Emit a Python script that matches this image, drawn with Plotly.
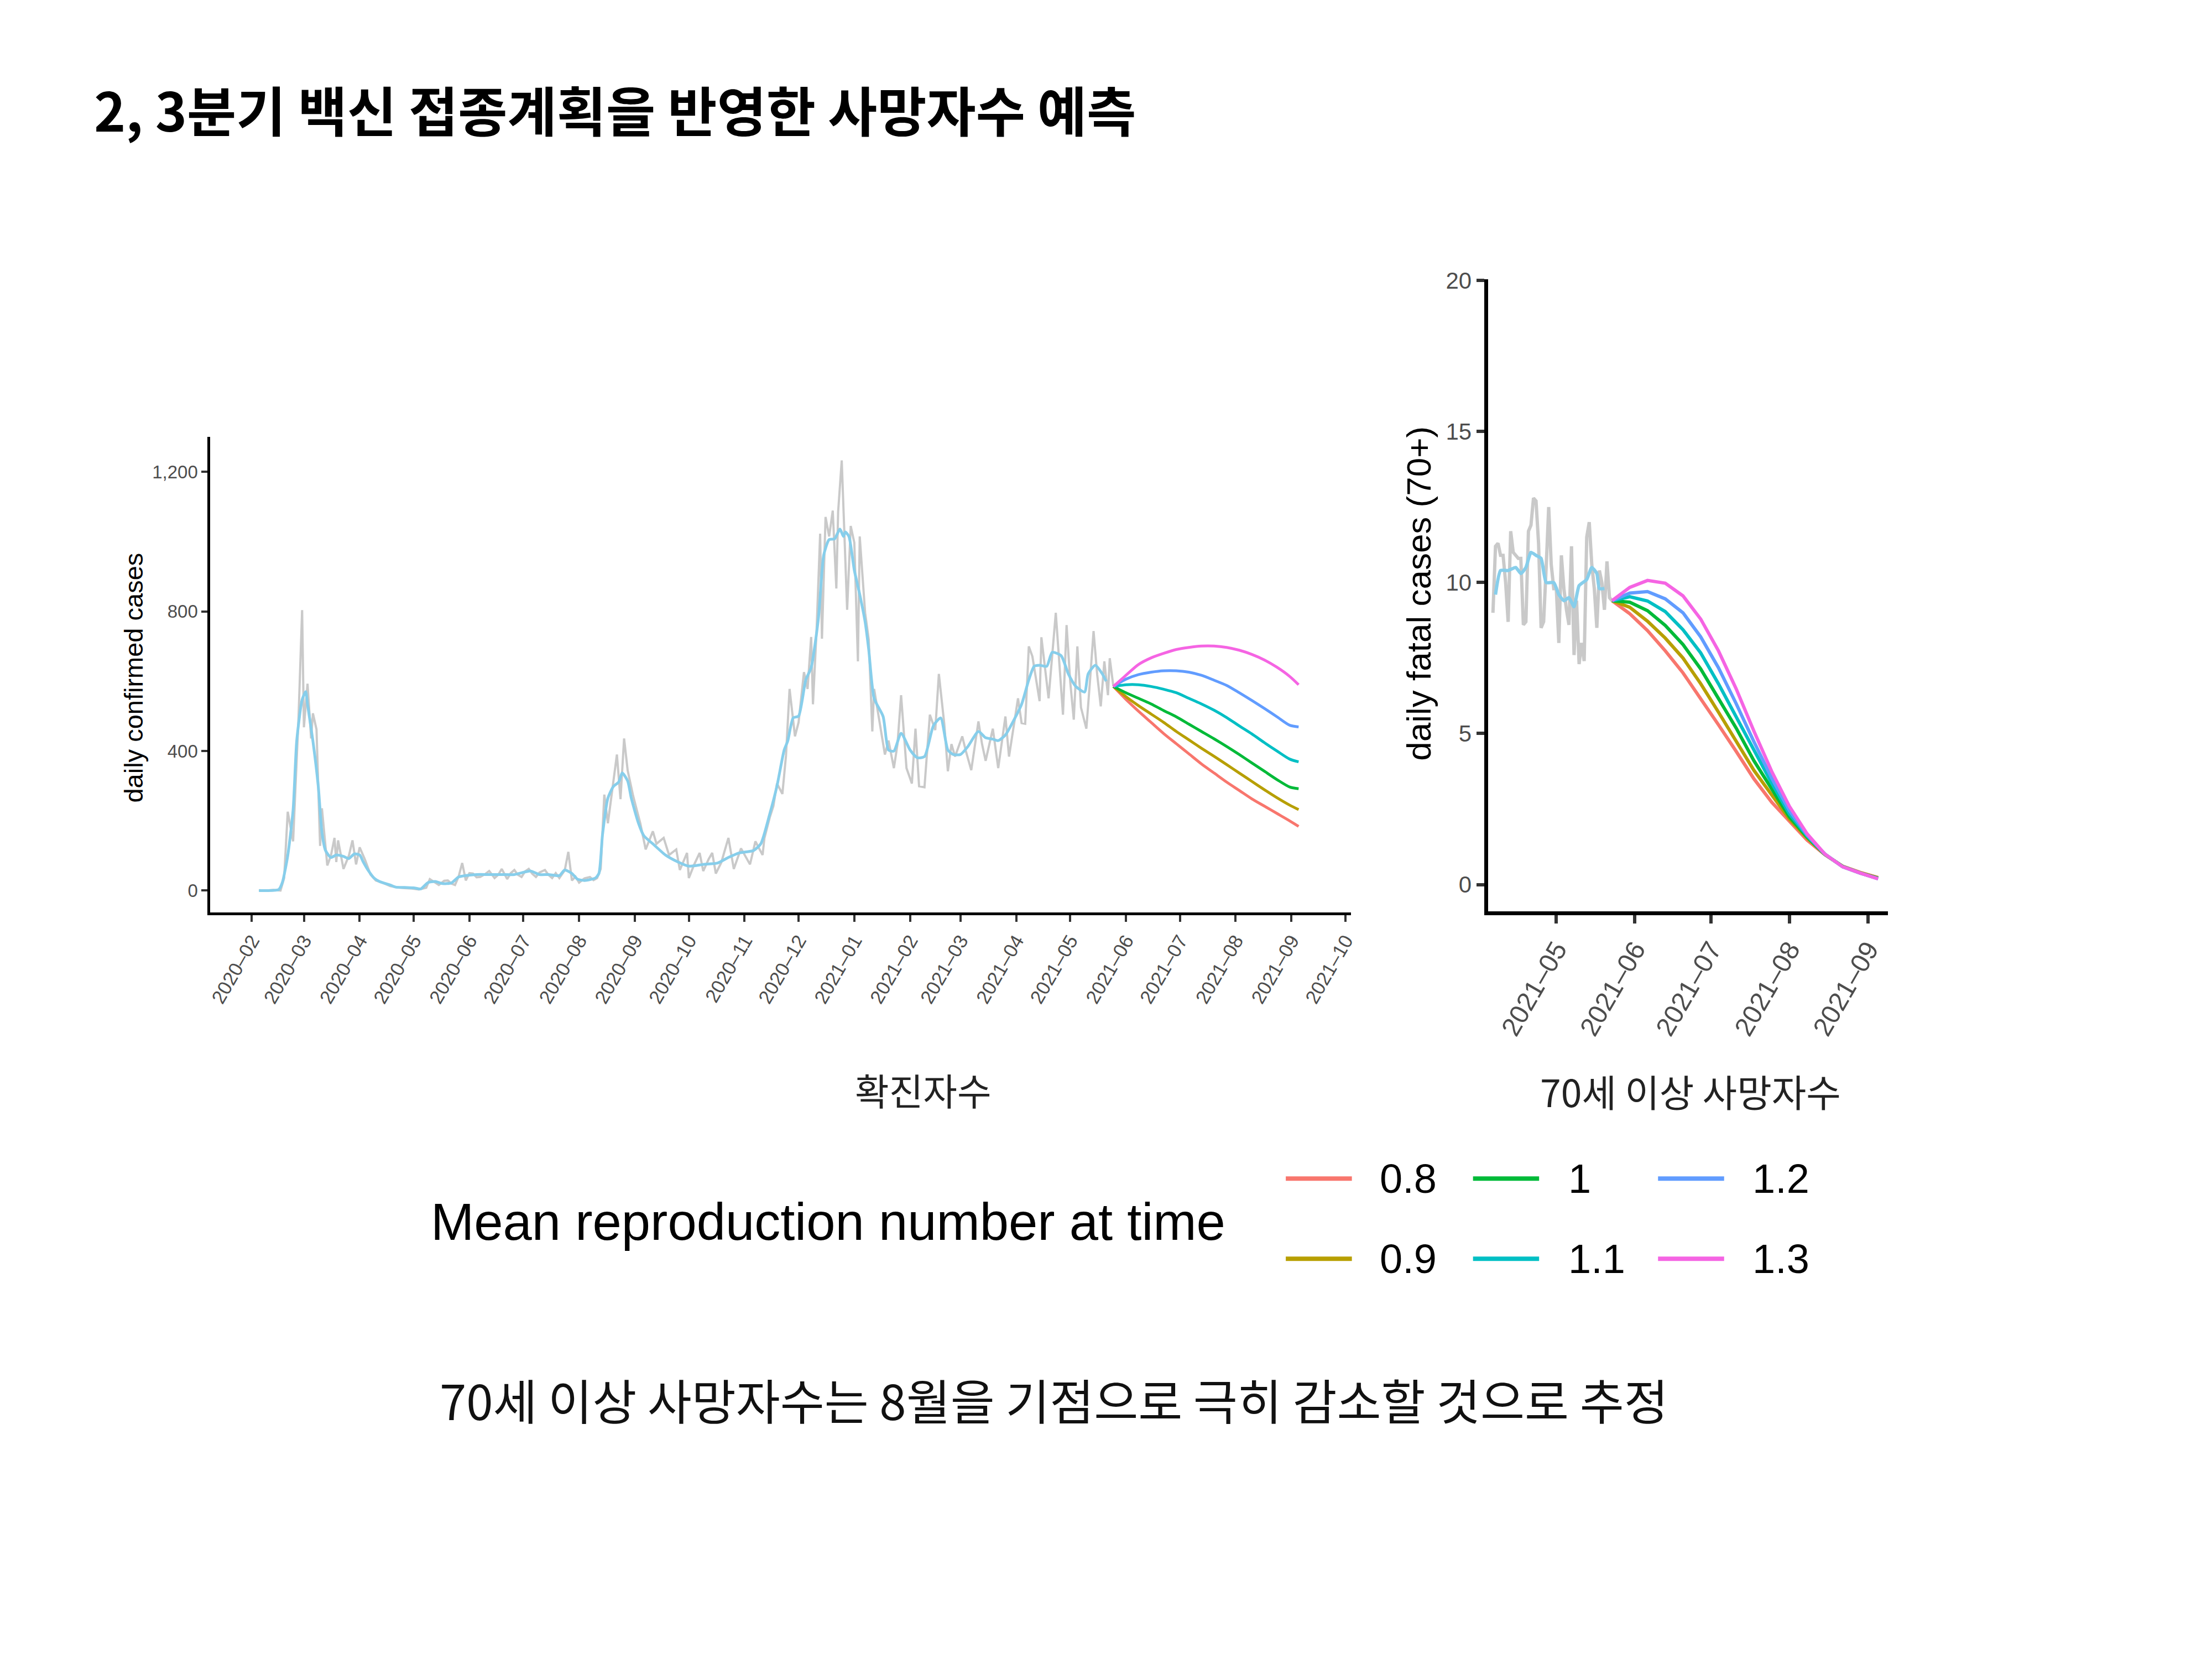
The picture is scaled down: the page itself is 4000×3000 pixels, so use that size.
import plotly.graph_objects as go

W, H = 4000, 3000


def px(x):
    return x / W


def py(y):
    return 1 - y / H


# ---------------- data: daily confirmed cases ----------------
conf_raw_dates = [
    "2020-02-05", "2020-02-09", "2020-02-13", "2020-02-17", "2020-02-19", "2020-02-21", "2020-02-24",
    "2020-02-27", "2020-02-29", "2020-03-01", "2020-03-03", "2020-03-05", "2020-03-06", "2020-03-08",
    "2020-03-10", "2020-03-11", "2020-03-14", "2020-03-16", "2020-03-18", "2020-03-19", "2020-03-20",
    "2020-03-23", "2020-03-26", "2020-03-28", "2020-03-30", "2020-04-01", "2020-04-04", "2020-04-07",
    "2020-04-10", "2020-04-14", "2020-04-18", "2020-04-22", "2020-04-26", "2020-04-30", "2020-05-04",
    "2020-05-08", "2020-05-10", "2020-05-13", "2020-05-15", "2020-05-18", "2020-05-20", "2020-05-22",
    "2020-05-24", "2020-05-26", "2020-05-28", "2020-05-30", "2020-06-01", "2020-06-03", "2020-06-05",
    "2020-06-07", "2020-06-10", "2020-06-12", "2020-06-15", "2020-06-17", "2020-06-19", "2020-06-22",
    "2020-06-24", "2020-06-26", "2020-06-28", "2020-06-30", "2020-07-02", "2020-07-04", "2020-07-06",
    "2020-07-08", "2020-07-10", "2020-07-13", "2020-07-15", "2020-07-17", "2020-07-19", "2020-07-21",
    "2020-07-24", "2020-07-26", "2020-07-28", "2020-07-30", "2020-08-01", "2020-08-04", "2020-08-07",
    "2020-08-09", "2020-08-11", "2020-08-13", "2020-08-15", "2020-08-17", "2020-08-22", "2020-08-24",
    "2020-08-26", "2020-08-28", "2020-08-31", "2020-09-02", "2020-09-04", "2020-09-07", "2020-09-11",
    "2020-09-13", "2020-09-17", "2020-09-20", "2020-09-24", "2020-09-26", "2020-09-30", "2020-10-01",
    "2020-10-04", "2020-10-07", "2020-10-09", "2020-10-12", "2020-10-14", "2020-10-16", "2020-10-19",
    "2020-10-23", "2020-10-26", "2020-10-30", "2020-11-04", "2020-11-07", "2020-11-11", "2020-11-12",
    "2020-11-15", "2020-11-17", "2020-11-19", "2020-11-22", "2020-11-24", "2020-11-26", "2020-11-29",
    "2020-12-01", "2020-12-04", "2020-12-06", "2020-12-08", "2020-12-09", "2020-12-11", "2020-12-13",
    "2020-12-14", "2020-12-16", "2020-12-18", "2020-12-20", "2020-12-22", "2020-12-23", "2020-12-25",
    "2020-12-28", "2020-12-30", "2021-01-01", "2021-01-03", "2021-01-04", "2021-01-06", "2021-01-07",
    "2021-01-09", "2021-01-11", "2021-01-12", "2021-01-15", "2021-01-18", "2021-01-20", "2021-01-23",
    "2021-01-25", "2021-01-27", "2021-01-30", "2021-02-02", "2021-02-04", "2021-02-06", "2021-02-09",
    "2021-02-12", "2021-02-15", "2021-02-17", "2021-02-20", "2021-02-22", "2021-02-24", "2021-02-26",
    "2021-03-02", "2021-03-04", "2021-03-07", "2021-03-11", "2021-03-13", "2021-03-15", "2021-03-19",
    "2021-03-22", "2021-03-26", "2021-03-28", "2021-04-02", "2021-04-04", "2021-04-06", "2021-04-08",
    "2021-04-10", "2021-04-14", "2021-04-15", "2021-04-17", "2021-04-19", "2021-04-23", "2021-04-25",
    "2021-04-27", "2021-04-29", "2021-05-01", "2021-05-03", "2021-05-05", "2021-05-07", "2021-05-10",
    "2021-05-12", "2021-05-14", "2021-05-16", "2021-05-18", "2021-05-20", "2021-05-22", "2021-05-23",
    "2021-05-25",
]
conf_raw = [
    1, 0, 2, 0, 36, 226, 141,
    495, 804, 468, 593, 436, 508, 462,
    128, 236, 72, 100, 151, 82, 144,
    62, 100, 144, 75, 124, 88, 46,
    29, 22, 13, 9, 7, 6, 3,
    8, 33, 22, 16, 28, 29, 20,
    16, 40, 79, 29, 50, 49, 38,
    39, 48, 56, 36, 45, 62, 33,
    50, 59, 45, 39, 55, 62, 48,
    39, 52, 59, 45, 36, 50, 36,
    58, 111, 29, 40, 23, 35, 39,
    30, 36, 62, 275, 193, 390, 262,
    436, 344, 272, 232, 193, 118, 170,
    134, 151, 102, 118, 59, 108, 36,
    75, 108, 56, 90, 108, 49, 80,
    151, 62, 121, 75, 141, 102, 150,
    210, 242, 307, 277, 386, 578, 442,
    482, 626, 578, 727, 534, 744, 1023,
    722, 1071, 1015, 1089, 866, 1086, 1233,
    805, 1045, 997, 657, 1015, 866, 796,
    720, 456, 578, 482, 390, 430, 351,
    420, 560, 351, 307, 464, 299, 296,
    504, 460, 621, 478, 342, 420, 384,
    442, 400, 345, 485, 420, 372, 464,
    351, 499, 384, 551, 480, 478, 700,
    671, 543, 726, 640, 551, 796, 650,
    504, 761, 600, 490, 700, 525, 464,
    600, 744, 620, 528, 657, 560, 666,
    586,
]

conf_smooth_dates = [
    "2020-02-05", "2020-02-09", "2020-02-16", "2020-02-18", "2020-02-21", "2020-02-24", "2020-02-26",
    "2020-02-29", "2020-03-02", "2020-03-03", "2020-03-06", "2020-03-09", "2020-03-11", "2020-03-13",
    "2020-03-16", "2020-03-19", "2020-03-23", "2020-03-26", "2020-03-29", "2020-04-01", "2020-04-03",
    "2020-04-06", "2020-04-09", "2020-04-12", "2020-04-18", "2020-04-21", "2020-04-26", "2020-05-01",
    "2020-05-05", "2020-05-09", "2020-05-13", "2020-05-17", "2020-05-22", "2020-05-26", "2020-05-30",
    "2020-06-05", "2020-06-12", "2020-06-19", "2020-06-26", "2020-07-05", "2020-07-10", "2020-07-15",
    "2020-07-21", "2020-07-24", "2020-07-28", "2020-07-31", "2020-08-04", "2020-08-10", "2020-08-12",
    "2020-08-14", "2020-08-17", "2020-08-20", "2020-08-23", "2020-08-25", "2020-08-28", "2020-08-30",
    "2020-09-03", "2020-09-06", "2020-09-11", "2020-09-18", "2020-09-25", "2020-10-01", "2020-10-09",
    "2020-10-17", "2020-10-23", "2020-10-29", "2020-11-06", "2020-11-10", "2020-11-15", "2020-11-19",
    "2020-11-23", "2020-11-25", "2020-11-28", "2020-12-01", "2020-12-05", "2020-12-08", "2020-12-12",
    "2020-12-15", "2020-12-18", "2020-12-21", "2020-12-24", "2020-12-26", "2020-12-27", "2020-12-29",
    "2021-01-01", "2021-01-04", "2021-01-07", "2021-01-09", "2021-01-12", "2021-01-17", "2021-01-20",
    "2021-01-23", "2021-01-27", "2021-02-01", "2021-02-05", "2021-02-09", "2021-02-14", "2021-02-18",
    "2021-02-22", "2021-02-25", "2021-03-01", "2021-03-05", "2021-03-11", "2021-03-15", "2021-03-19",
    "2021-03-22", "2021-03-26", "2021-03-30", "2021-04-04", "2021-04-08", "2021-04-11", "2021-04-14",
    "2021-04-18", "2021-04-21", "2021-04-26", "2021-04-30", "2021-05-04", "2021-05-09", "2021-05-11",
    "2021-05-15", "2021-05-19", "2021-05-21",
]
conf_smooth = [
    0, 0, 3, 23, 100, 232, 429,
    547, 570, 534, 429, 298, 167, 115,
    95, 102, 98, 92, 105, 102, 82,
    56, 36, 26, 16, 10, 9, 8,
    5, 23, 26, 20, 22, 39, 43,
    46, 46, 46, 46, 56, 46, 46,
    43, 59, 49, 33, 29, 36, 49,
    160, 265, 298, 311, 337, 314, 265,
    193, 157, 134, 102, 82, 70, 75,
    79, 95, 108, 115, 134, 220, 300,
    403, 429, 495, 500, 604, 639, 779,
    962, 1006, 1008, 1036, 1015, 1028, 1015,
    918, 849, 770, 691, 551, 499, 403,
    400, 451, 403, 381, 384, 473, 495,
    403, 390, 390, 412, 456, 438, 434,
    430, 446, 482, 534, 604, 643, 646,
    643, 683, 673, 621, 586, 569, 621,
    646, 620, 600,
]

scenarios = ["0.8", "0.9", "1", "1.1", "1.2", "1.3"]
scenario_colors = ["#F8766D", "#B79F00", "#00BA38", "#00BFC4", "#619CFF", "#F564E3"]

conf_fc_dates = [
    "2021-05-25", "2021-06-01", "2021-06-08", "2021-06-15", "2021-06-22", "2021-06-29", "2021-07-06",
    "2021-07-13", "2021-07-20", "2021-07-27", "2021-08-03", "2021-08-10", "2021-08-17", "2021-08-24",
    "2021-08-31", "2021-09-05",
]
conf_fc_08 = [585, 548, 514, 482, 450, 421, 392, 363, 337, 311, 287, 263, 242, 221, 200, 184]
conf_fc_09 = [585, 556, 530, 506, 482, 456, 432, 408, 385, 361, 337, 313, 289, 266, 245, 232]
conf_fc_10 = [585, 567, 551, 535, 516, 498, 477, 456, 435, 413, 390, 366, 342, 318, 297, 292]
conf_fc_11 = [585, 590, 590, 585, 577, 567, 551, 535, 517, 496, 472, 449, 424, 400, 377, 369]
conf_fc_12 = [585, 606, 619, 626, 630, 630, 626, 617, 603, 588, 567, 545, 522, 498, 474, 469]
conf_fc_13 = [585, 617, 648, 667, 680, 691, 697, 701, 701, 697, 689, 677, 661, 640, 614, 590]

# ---------------- data: daily fatal cases (70+) ----------------
fatal_raw_dates = [
    "2021-04-06", "2021-04-07", "2021-04-08", "2021-04-09", "2021-04-10", "2021-04-11", "2021-04-12",
    "2021-04-13", "2021-04-14", "2021-04-15", "2021-04-16", "2021-04-17", "2021-04-18", "2021-04-19",
    "2021-04-20", "2021-04-21", "2021-04-22", "2021-04-23", "2021-04-24", "2021-04-25", "2021-04-26",
    "2021-04-27", "2021-04-28", "2021-04-29", "2021-04-30", "2021-05-01", "2021-05-02", "2021-05-03",
    "2021-05-04", "2021-05-05", "2021-05-06", "2021-05-07", "2021-05-08", "2021-05-09", "2021-05-10",
    "2021-05-11", "2021-05-12", "2021-05-13", "2021-05-14", "2021-05-15", "2021-05-16", "2021-05-17",
    "2021-05-18", "2021-05-19", "2021-05-20", "2021-05-21", "2021-05-22", "2021-05-23",
]
fatal_raw = [
    9.0, 11.2, 11.3, 10.9, 10.9, 10.0, 8.7,
    11.7, 11.0, 10.9, 10.8, 10.8, 8.6, 8.7,
    11.7, 11.9, 12.8, 12.7, 11.3, 8.5, 8.7,
    10.5, 12.5, 10.6, 9.8, 9.8, 8.0, 10.9,
    9.8, 9.1, 8.6, 11.2, 7.6, 9.4, 7.3,
    8.0, 7.4, 11.5, 12.0, 10.6, 9.8, 8.5,
    10.4, 10.0, 9.1, 10.7, 9.5, 9.4,
]

fatal_smooth_dates = [
    "2021-04-07", "2021-04-09", "2021-04-12", "2021-04-15", "2021-04-17", "2021-04-19", "2021-04-21",
    "2021-04-23", "2021-04-25", "2021-04-27", "2021-04-30", "2021-05-02", "2021-05-04", "2021-05-06",
    "2021-05-08", "2021-05-10", "2021-05-13", "2021-05-15", "2021-05-17", "2021-05-18", "2021-05-20",
]
fatal_smooth = [
    9.6, 10.4, 10.4, 10.5, 10.3, 10.5, 11.0,
    10.9, 10.8, 10.0, 10.0, 9.6, 9.4, 9.5,
    9.2, 9.9, 10.1, 10.5, 10.3, 9.8, 9.8,
]

fatal_fc_dates = [
    "2021-05-23", "2021-05-30", "2021-06-06", "2021-06-13", "2021-06-20", "2021-06-27", "2021-07-04",
    "2021-07-11", "2021-07-18", "2021-07-25", "2021-08-01", "2021-08-08", "2021-08-15", "2021-08-22",
    "2021-08-29", "2021-09-05",
]
fatal_fc_08 = [9.40, 8.97, 8.41, 7.74, 7.01, 6.16, 5.29, 4.41, 3.50, 2.73, 2.10, 1.47, 0.99, 0.61, 0.40, 0.23]
fatal_fc_09 = [9.40, 9.18, 8.72, 8.16, 7.50, 6.65, 5.71, 4.76, 3.78, 2.97, 2.17, 1.54, 1.00, 0.60, 0.39, 0.22]
fatal_fc_10 = [9.40, 9.35, 9.07, 8.58, 7.95, 7.14, 6.16, 5.18, 4.10, 3.15, 2.24, 1.57, 1.00, 0.60, 0.38, 0.21]
fatal_fc_11 = [9.40, 9.53, 9.39, 9.04, 8.44, 7.67, 6.65, 5.57, 4.45, 3.36, 2.34, 1.61, 1.01, 0.59, 0.38, 0.20]
fatal_fc_12 = [9.40, 9.65, 9.70, 9.46, 9.00, 8.20, 7.18, 5.99, 4.73, 3.53, 2.45, 1.64, 1.01, 0.59, 0.38, 0.19]
fatal_fc_13 = [9.40, 9.84, 10.07, 9.98, 9.56, 8.79, 7.74, 6.48, 5.08, 3.75, 2.59, 1.68, 1.01, 0.59, 0.38, 0.19]

conf_ticks = [
    "2020-02-01", "2020-03-01", "2020-04-01", "2020-05-01", "2020-06-01", "2020-07-01", "2020-08-01",
    "2020-09-01", "2020-10-01", "2020-11-01", "2020-12-01", "2021-01-01", "2021-02-01", "2021-03-01",
    "2021-04-01", "2021-05-01", "2021-06-01", "2021-07-01", "2021-08-01", "2021-09-01", "2021-10-01",
]
fatal_ticks = ["2021-05-01", "2021-06-01", "2021-07-01", "2021-08-01", "2021-09-01"]
conf_yticks = [0, 400, 800, 1200]
conf_yticktext = ["0", "400", "800", "1,200"]
fatal_yticks = [0, 5, 10, 15, 20]

title_text = "2, 3분기 백신 접종계획을 반영한 사망자수 예측"
left_caption = "확진자수"
right_caption = "70세 이상 사망자수"
legend_title = "Mean reproduction number at time"
bottom_note = "70세 이상 사망자수는 8월을 기점으로 극히 감소할 것으로 추정"

conf_fc = [conf_fc_08, conf_fc_09, conf_fc_10, conf_fc_11, conf_fc_12, conf_fc_13]
fatal_fc = [fatal_fc_08, fatal_fc_09, fatal_fc_10, fatal_fc_11, fatal_fc_12, fatal_fc_13]


def dash_label(d):
    return d[:4] + "\u2013" + d[5:7]


GRAY = "#C9C9C9"
BLUE = "#87CEEB"
SANS = "Liberation Sans, Arial, sans-serif"
KR = "Noto Sans CJK KR, sans-serif"

fig = go.Figure()

# left chart
fig.add_trace(go.Scatter(x=conf_raw_dates, y=conf_raw, mode="lines",
                         line=dict(color=GRAY, width=4), xaxis="x", yaxis="y", showlegend=False))
fig.add_trace(go.Scatter(x=conf_smooth_dates, y=conf_smooth, mode="lines",
                         line=dict(color=BLUE, width=5, shape="spline", smoothing=0.6),
                         xaxis="x", yaxis="y", showlegend=False))
for name, col, vals in zip(scenarios, scenario_colors, conf_fc):
    fig.add_trace(go.Scatter(x=conf_fc_dates, y=vals, mode="lines", name=name,
                             line=dict(color=col, width=5, shape="spline", smoothing=0.8),
                             xaxis="x", yaxis="y", showlegend=False))

# right chart
fig.add_trace(go.Scatter(x=fatal_raw_dates, y=fatal_raw, mode="lines",
                         line=dict(color=GRAY, width=6), xaxis="x2", yaxis="y2", showlegend=False))
fig.add_trace(go.Scatter(x=fatal_smooth_dates, y=fatal_smooth, mode="lines",
                         line=dict(color=BLUE, width=6, shape="spline", smoothing=0.5),
                         xaxis="x2", yaxis="y2", showlegend=False))
for name, col, vals in zip(scenarios, scenario_colors, fatal_fc):
    fig.add_trace(go.Scatter(x=fatal_fc_dates, y=vals, mode="lines", name=name,
                             line=dict(color=col, width=6),
                             xaxis="x2", yaxis="y2", showlegend=False))

axis_common = dict(showgrid=False, zeroline=False, showline=True, linecolor="black",
                   ticks="outside", tickcolor="#333333")

fig.update_layout(
    width=W, height=H,
    margin=dict(l=0, r=0, t=0, b=0),
    paper_bgcolor="white", plot_bgcolor="white",
    showlegend=False,
    xaxis=dict(domain=[px(368), px(2439)], anchor="y", type="date",
               range=["2020-01-09", "2021-10-04"],
               tickvals=conf_ticks, ticktext=[dash_label(t) for t in conf_ticks],
               tickangle=-60, tickfont=dict(family=SANS, size=35, color="#4D4D4D"),
               linewidth=5, ticklen=12, tickwidth=4, **axis_common),
    yaxis=dict(domain=[py(1632), py(766)], anchor="x", range=[-62, 1301],
               tickvals=conf_yticks, ticktext=conf_yticktext,
               tickfont=dict(family=SANS, size=33, color="#4D4D4D"),
               linewidth=5, ticklen=11, tickwidth=4, **axis_common),
    xaxis2=dict(domain=[px(2688), px(3415)], anchor="y2", type="date",
                range=["2021-04-04", "2021-09-09"],
                tickvals=fatal_ticks, ticktext=[dash_label(t) for t in fatal_ticks],
                tickangle=-60, tickfont=dict(family=SANS, size=48, color="#4D4D4D"),
                linewidth=7, ticklen=15, tickwidth=6, **axis_common),
    yaxis2=dict(domain=[py(1630), py(479)], anchor="x2", range=[-0.88, 20.05],
                tickvals=fatal_yticks,
                tickfont=dict(family=SANS, size=42, color="#4D4D4D"),
                linewidth=7, ticklen=14, tickwidth=6, **axis_common),
)


def note(text, x, y, size, family, color="black", xanchor="center", angle=0):
    return dict(text=text, x=px(x), y=py(y), xref="paper", yref="paper",
                xanchor=xanchor, yanchor="middle", showarrow=False, textangle=angle,
                font=dict(family=family, size=size, color=color))


ann = [
    note("<b>" + title_text + "</b>", 155, 168, 97, KR, xanchor="left"),
    note("daily confirmed cases", 229, 1205, 47, SANS, angle=-90),
    note("daily fatal cases (70+)", 2563, 1052, 62, SANS, angle=-90),
    note(left_caption, 1663, 1954, 67, KR, color="#222222"),
    note(right_caption, 3056, 1957, 68, KR, color="#222222"),
    note(legend_title, 1490, 2196, 94, SANS),
    note(bottom_note, 1900, 2519, 87, KR, color="#111111"),
]

# legend keys (column-major, like ggplot)
col_line_x = [(2321, 2441), (2661, 2781), (2997, 3117)]
col_label_x = [2490, 2832, 3166]
row_y = [2117, 2263]
shapes = []
for i, (name, col) in enumerate(zip(scenarios, scenario_colors)):
    c, r = i // 2, i % 2
    x0, x1 = col_line_x[c]
    shapes.append(dict(type="line", xref="paper", yref="paper", x0=px(x0), x1=px(x1),
                       y0=py(row_y[r]), y1=py(row_y[r]), line=dict(color=col, width=8)))
    ann.append(note(name, col_label_x[c], row_y[r], 74, SANS, xanchor="left"))

fig.update_layout(annotations=ann, shapes=shapes)

fig.write_html("out.html")
